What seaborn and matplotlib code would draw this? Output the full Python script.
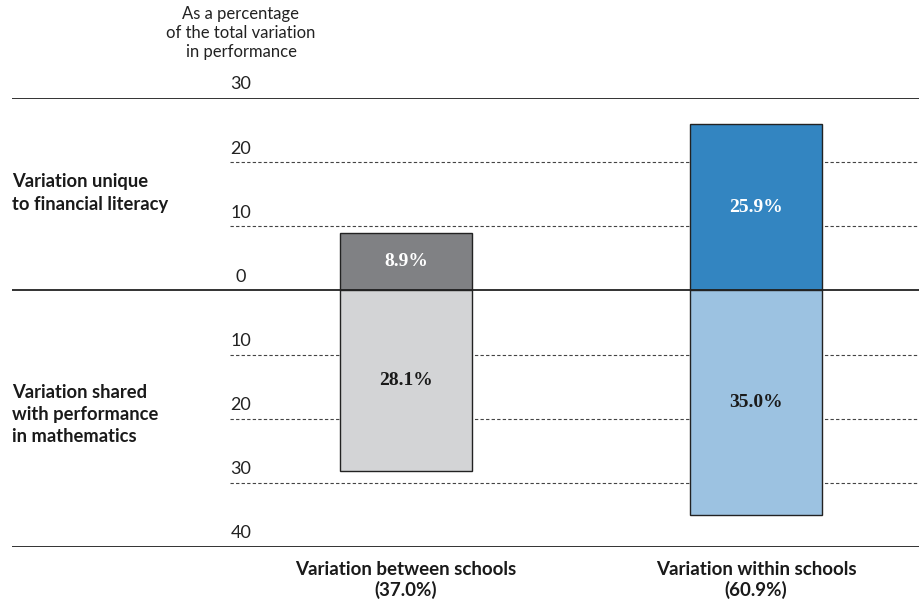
import matplotlib
matplotlib.use("Agg")
import matplotlib.pyplot as plt
import matplotlib.transforms as mtransforms
import pandas as pd
import seaborn as sns

# Data
categories = ["Variation between schools\n(37.0%)", "Variation within schools\n(60.9%)"]
unique_fl = [8.9, 25.9]        # variation unique to financial literacy (drawn upward)
shared_math = [28.1, 35.0]     # variation shared with mathematics (drawn downward)
tick_values = [30, 20, 10, 0, -10, -20, -30, -40]
solid_lines = [30, 0, -40]
dashed_lines = [20, 10, -10, -20, -30]

upper_colors = ["#808184", "#3385c1"]
lower_colors = ["#d3d4d6", "#9cc2e1"]

sns.set_theme(style="white")
plt.rcParams["font.family"] = ["Lato", "DejaVu Sans"]

df = pd.DataFrame({
    "category": categories,
    "unique": unique_fl,
    "shared": [-v for v in shared_math],
})

fig = plt.figure(figsize=(9.2, 6), dpi=100)
ax = fig.add_axes([12 / 920, 53 / 600, 908 / 920, 449 / 600])

bar_w = 132 / 350
sns.barplot(data=df, x="category", y="unique", hue="category", palette=upper_colors,
            saturation=1, legend=False, width=bar_w, edgecolor="#222222", linewidth=1,
            ax=ax, zorder=3)
sns.barplot(data=df, x="category", y="shared", hue="category", palette=lower_colors,
            saturation=1, legend=False, width=bar_w, edgecolor="#222222", linewidth=1,
            ax=ax, zorder=3)

ax.set_xlim(-394 / 350, 1 + 164 / 350)
ax.set_ylim(-40, 30)
sns.despine(ax=ax, left=True, bottom=True)
ax.set_yticks([])
ax.set_xlabel("")
ax.set_ylabel("")
ax.tick_params(axis="x", length=0, pad=10)
ax.set_xticks([0, 1])
ax.set_xticklabels(categories, fontweight="bold", fontsize=13.5, color="#1a1a1a",
                   linespacing=1.2)

# reference lines
for v in solid_lines:
    ax.axhline(v, color="#222222", linewidth=1.3, zorder=4 if v == 0 else 2)
for v in dashed_lines:
    ax.axhline(v, xmin=218 / 908, xmax=1, color="#444444", linewidth=0.8,
               linestyle=(0, (3, 2)), zorder=1)

# tick labels sitting above each line
trans = mtransforms.blended_transform_factory(ax.transAxes, ax.transData)
off = mtransforms.offset_copy(trans, fig=fig, x=0, y=4, units="points")
for v in tick_values:
    ax.text(229 / 908, v, f"{abs(v)}", transform=off, ha="center", va="bottom",
            fontsize=13, color="#222222")

ax.text(229 / 908, 1.145, "As a percentage\nof the total variation\nin performance",
        transform=ax.transAxes, ha="center", va="center", fontsize=12,
        color="#222222", linespacing=1.25)

# side labels
ax.text(0, 15.2, "Variation unique\nto financial literacy", transform=trans,
        ha="left", va="center", fontsize=13.2, fontweight="bold", color="#1a1a1a",
        linespacing=1.38)
ax.text(0, -19.3, "Variation shared\nwith performance\nin mathematics", transform=trans,
        ha="left", va="center", fontsize=13.2, fontweight="bold", color="#1a1a1a",
        linespacing=1.35)

# value labels in bars
for i, (u, s) in enumerate(zip(unique_fl, shared_math)):
    ax.text(i, u / 2, f"{u:.1f}%", ha="center", va="center", color="white",
            fontsize=14, fontweight="bold", family="Liberation Serif", zorder=5)
    ax.text(i, -s / 2, f"{s:.1f}%", ha="center", va="center", color="#1a1a1a",
            fontsize=14, fontweight="bold", family="Liberation Serif", zorder=5)

fig.savefig("out.png", dpi=100)
